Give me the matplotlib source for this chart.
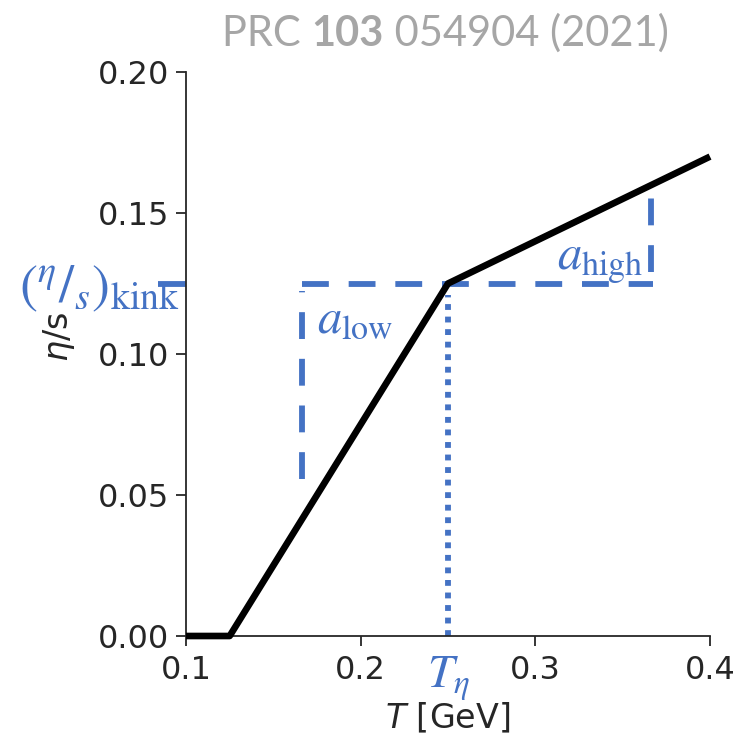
import numpy as np
import matplotlib
matplotlib.use("Agg")
import matplotlib.pyplot as plt

# --- data ---
T_points = [0.1, 0.125, 0.25, 0.4]
eta_s_points = [0.0, 0.0, 0.125, 0.17]
T_eta = 0.25
eta_s_kink = 0.125
T_low_mark = 0.1665
low_mark_bottom = 0.0555
T_high_mark = 0.3665
high_mark_top = 0.162
x_ticks = [0.1, 0.2, 0.3, 0.4]
y_ticks = [0.0, 0.05, 0.10, 0.15, 0.20]

blue = "#4472C4"
dark = "#262626"
plt.rcParams["font.family"] = "DejaVu Sans"
plt.rcParams["mathtext.fontset"] = "dejavusans"

fig = plt.figure(figsize=(7.36, 7.39), dpi=100)
ax = fig.add_axes([186 / 736, 1 - 636 / 739, 524 / 736, 564 / 739])

ax.plot(T_points, eta_s_points, color="black", lw=4.8, solid_capstyle="butt", zorder=5, clip_on=False)

blw = 4.2
dash = (0, (4.6, 3.4))
# horizontal dashed line at kink level
ax.plot([T_low_mark, T_high_mark + 0.001], [eta_s_kink, eta_s_kink], color=blue, lw=blw,
        linestyle=dash, dash_capstyle="butt")
ax.plot([0.084, 0.1], [eta_s_kink, eta_s_kink], color=blue, lw=blw, clip_on=False, solid_capstyle="butt")
# vertical dashed lines (drawn upward)
ax.plot([T_low_mark, T_low_mark], [low_mark_bottom, eta_s_kink - 0.0025], color=blue, lw=blw,
        linestyle=dash, dash_capstyle="butt")
ax.plot([T_high_mark, T_high_mark], [eta_s_kink + 0.004, high_mark_top], color=blue, lw=blw,
        linestyle=dash, dash_capstyle="butt")
# dotted line at T_eta
ax.plot([T_eta, T_eta], [0, eta_s_kink - 0.004], color=blue, lw=blw, linestyle=(0, (1.0, 1.15)),
        dash_capstyle="butt")

ann = dict(color=blue, math_fontfamily="stix", clip_on=False)
ax.text(0.175, 0.1125, r"$a_{\mathrm{low}}$", fontsize=35, ha="left", va="center", **ann)
ax.text(0.362, 0.1325, r"$a_{\mathrm{high}}$", fontsize=35, ha="right", va="center", **ann)
ax.text(0.0965, 0.1235, r"$(^{\eta}/_{s})_{\mathrm{kink}}$", fontsize=39, ha="right", va="center", **ann)
ax.text(T_eta, -0.0065, r"$T_{\eta}$", fontsize=34, ha="center", va="top", **ann)

ax.set_xlim(0.1, 0.4)
ax.set_ylim(0.0, 0.2)
ax.set_xticks(x_ticks)
ax.set_xticklabels(["0.1", "0.2", "0.3", "0.4"])
ax.set_yticks(y_ticks)
ax.set_yticklabels(["0.00", "0.05", "0.10", "0.15", "0.20"])
ax.tick_params(labelsize=23, colors=dark, length=7, width=1.3)
ax.tick_params(axis="x", pad=7)
ax.tick_params(axis="y", pad=5)
for side in ["top", "right"]:
    ax.spines[side].set_visible(False)
for side in ["left", "bottom"]:
    ax.spines[side].set_color(dark)
    ax.spines[side].set_linewidth(1.3)

ax.set_xlabel(r"$T$ [GeV]", fontsize=24, color=dark)
ax.xaxis.set_label_coords(0.5, -0.115)
ax.set_ylabel(r"$\eta$/s", fontsize=24, color=dark)
ax.yaxis.set_label_coords(-0.208, 0.53)

# title with bold volume number, built from pieces
title_parts = [("PRC ", "normal"), ("103", "bold"), (" 054904 (2021)", "normal")]
renderer = fig.canvas.get_renderer()
x0 = 222 / 736
for txt, weight in title_parts:
    t = fig.text(x0, 1 - 46 / 739, txt, fontsize=30, color="#a6a6a6", ha="left", va="baseline",
                 family="Lato", fontweight=weight)
    bb = t.get_window_extent(renderer)
    x0 += bb.width / fig.bbox.width

fig.savefig("out.png", dpi=100)
